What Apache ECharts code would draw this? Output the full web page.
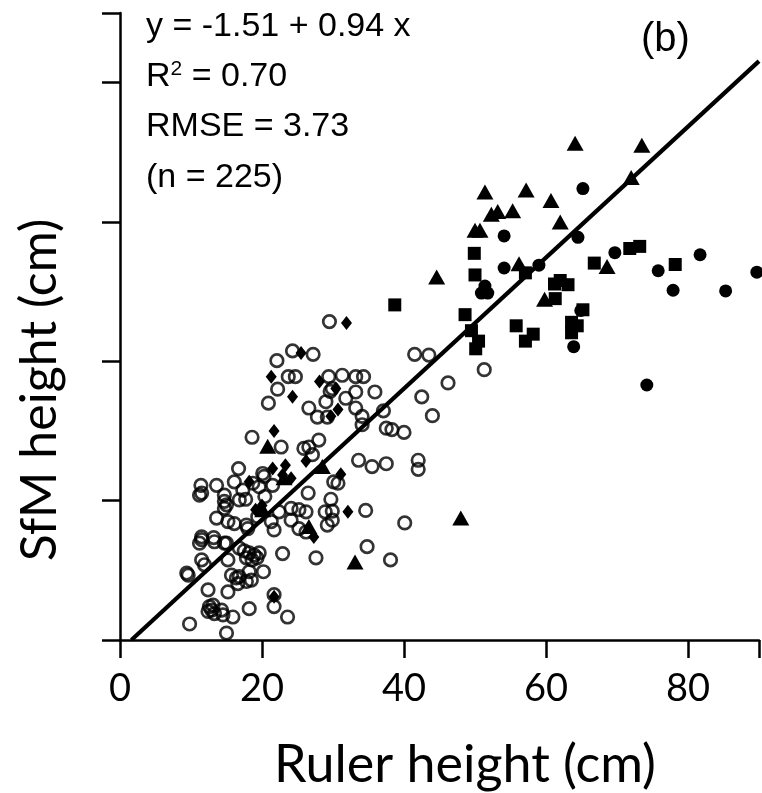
<!DOCTYPE html>
<html>
<head>
<meta charset="utf-8">
<script src="https://cdn.jsdelivr.net/npm/echarts@6/dist/echarts.min.js"></script>
<style>
html,body{margin:0;padding:0;background:#fff;}
#chart{width:762px;height:793px;}
</style>
</head>
<body>
<div id="chart"></div>
<script>
// ---- data (Ruler height cm, SfM height cm) ----
const xTicks = [0, 20, 40, 60, 80];
const xRange = [0, 90];
const yRange = [0, 90];
const fitIntercept = -1.51;
const fitSlope = 0.94;
const statsLines = ["y = -1.51 + 0.94 x", "R2 = 0.70", "RMSE = 3.73", "(n = 225)"];
const panelLabel = "(b)";
const xTitle = "Ruler height (cm)";
const yTitle = "SfM height (cm)";

const openCircles = [
 [29.5,45.7],[24.3,41.5],[27.2,41.0],[22.1,40.1],[23.7,37.8],[24.7,37.8],[22.2,36.0],[20.9,34.0],
 [29.4,37.8],[31.3,38.0],[33.2,37.8],[34.3,37.8],[29.6,35.7],[29.9,36.1],[26.6,33.3],[27.8,32.0],
 [29.2,32.0],[31.8,34.7],[33.2,35.6],[35.9,35.6],[33.2,33.3],[34.1,32.1],[34.1,30.9],[37.1,32.9],
 [37.5,30.4],[38.3,30.2],[40.0,29.8],[41.5,41.0],[43.5,40.9],[46.2,36.9],[42.5,34.9],[44.0,32.2],
 [51.3,38.8],[29.0,34.2],[18.6,29.1],[22.7,27.7],[25.9,27.5],[28.0,28.7],[27.1,26.6],[16.7,24.6],
 [33.6,25.8],[35.5,24.9],[37.5,25.3],[42.0,25.8],[42.0,24.5],[30.7,22.5],[29.7,20.2],[26.5,21.1],
 [28.9,18.4],[29.9,18.5],[34.6,18.6],[29.2,16.5],[40.1,16.8],[34.8,13.4],[38.1,11.5],[27.6,11.8],
 [22.9,12.4],[23.6,3.3],[21.7,4.8],[21.7,6.5],[18.2,4.5],[15.0,1.0],[9.8,2.3],[11.4,22.2],
 [11.5,21.1],[13.6,22.2],[16.1,22.7],[20.3,23.5],[21.5,22.2],[18.7,22.5],[17.3,21.5],[20.4,20.6],
 [14.7,20.8],[15.0,19.4],[16.8,20.1],[17.7,20.2],[25.2,18.7],[26.2,18.4],[24.1,18.9],[24.1,17.2],
 [22.4,18.4],[21.3,17.0],[21.7,15.8],[13.6,17.5],[15.2,17.0],[16.1,16.7],[17.8,16.5],[18.0,16.0],
 [19.4,17.7],[25.2,16.0],[26.2,15.5],[29.9,17.2],[11.5,14.8],[11.5,14.4],[13.2,14.7],[15.0,13.9],
 [16.8,13.2],[17.5,12.8],[18.2,12.5],[18.9,12.2],[19.6,12.5],[17.8,11.8],[18.6,11.5],[19.3,11.8],
 [20.2,9.8],[18.2,9.8],[16.8,9.1],[11.5,11.5],[11.9,10.8],[9.6,9.3],[9.4,9.6],[12.4,7.2],
 [15.2,6.9],[16.4,8.9],[16.6,8.1],[17.8,8.4],[18.5,8.6],[12.6,4.8],[12.9,4.3],[13.3,3.8],
 [14.5,3.6],[15.9,3.3],[13.1,5.0],[14.3,4.3],[12.4,4.1],[15.7,9.3],[15.2,11.5],[11.2,13.9],
 [13.3,14.1],[14.7,13.9],[11.2,20.8],[14.7,19.9],[14.7,18.9],[30.1,22.7],[20.1,23.9],[19.6,22.0],
 [26.6,27.7]
];
const diamonds = [
 [25.5,41.2],[31.9,45.5],[21.3,37.8],[24.3,34.9],[28.1,37.1],[30.7,33.1],[30.4,36.1],[29.7,32.1],
 [21.7,30.0],[23.3,25.1],[21.5,24.6],[26.2,25.7],[31.1,23.8],[18.2,22.7],[22.9,23.7],[19.1,18.7],
 [27.3,14.8],[21.7,6.2],[32.1,18.4],[24.1,23.2],[20.0,19.3]
];
const triangles = [
 [64.1,71.3],[73.5,71.0],[72.0,66.4],[51.4,64.3],[57.2,64.6],[60.7,63.1],[52.3,61.1],[53.2,61.5],
 [55.3,61.6],[62.0,60.0],[50.0,58.8],[50.7,58.8],[44.6,52.1],[56.2,54.0],[68.6,53.6],[59.8,48.9],
 [48.0,17.5],[33.1,11.2],[28.5,24.9],[20.8,27.8],[20.1,18.7],[26.6,16.3],[23.1,23.3]
];
const squares = [
 [49.9,55.5],[50.0,52.4],[48.6,46.7],[49.5,44.4],[50.5,42.9],[50.1,41.8],[55.8,45.1],[58.2,43.9],
 [57.1,42.9],[57.1,52.7],[61.2,51.1],[62.0,51.6],[63.1,51.0],[61.3,49.0],[65.2,47.4],[63.6,45.6],
 [64.4,45.1],[63.6,44.1],[66.8,54.1],[71.8,56.2],[73.2,56.5],[78.2,53.9],[38.7,48.1]
];
const filledCircles = [
 [65.2,64.8],[54.1,58.0],[64.5,57.8],[54.1,53.4],[59.0,53.8],[69.7,55.6],[75.8,53.0],[81.7,55.3],
 [77.9,50.2],[85.3,50.1],[89.7,52.8],[51.4,50.8],[50.9,49.8],[51.8,49.8],[64.9,47.3],[63.9,42.1],
 [74.2,36.6]
];

const fitLine = [[-fitIntercept / fitSlope, 0], [xRange[1], fitIntercept + fitSlope * xRange[1]]];

const chart = echarts.init(document.getElementById('chart'), null, {renderer: 'canvas'});
const black = '#000';
const tickFont = 'Lato, "Noto Sans", sans-serif';
const annFont = '"Liberation Sans", Arial, sans-serif';
function scatter(name, data, symbol, size, open) {
  return {
    name, type: 'scatter', data, symbol, symbolSize: size, silent: true,
    itemStyle: open ? {color: 'rgba(0,0,0,0)', borderColor: black, borderWidth: 2.7}
                    : {color: black, borderWidth: 0, opacity: 1},
    z: 3
  };
}
chart.setOption({
  animation: false,
  backgroundColor: '#fff',
  grid: {left: 120, right: 0, top: 13, bottom: 153, containLabel: false},
  xAxis: {
    type: 'value', min: xRange[0], max: xRange[1], interval: 20,
    axisLine: {show: true, onZero: false, lineStyle: {color: black, width: 2.5}},
    axisTick: {show: true, inside: false, length: 18, lineStyle: {color: black, width: 2.5}},
    axisLabel: {show: true, margin: 30, fontFamily: tickFont, fontSize: 38, color: black,
      formatter: v => xTicks.includes(v) ? String(v) : ''},
    splitLine: {show: false}
  },
  yAxis: {
    type: 'value', min: yRange[0], max: yRange[1], interval: 20,
    axisLine: {show: true, onZero: false, lineStyle: {color: black, width: 2.5}},
    axisTick: {show: true, inside: false, length: 18, lineStyle: {color: black, width: 2.5}},
    axisLabel: {show: false},
    splitLine: {show: false}
  },
  series: [
    scatter('open', openCircles, 'circle', 12.5, true),
    scatter('diamond', diamonds, 'diamond', [11, 14], false),
    scatter('triangle', triangles, 'triangle', [17, 15], false),
    scatter('square', squares, 'rect', 13, false),
    scatter('filled', filledCircles, 'circle', 13, false),
    {
      name: 'fit', type: 'line', data: fitLine, symbol: 'none', silent: true,
      lineStyle: {color: black, width: 4.2}, z: 4, clip: true
    }
  ],
  graphic: [
    {type: 'text', x: 465, y: 765, style: {text: xTitle, fontFamily: tickFont, fontSize: 52, fill: black, align: 'center', verticalAlign: 'middle'}},
    {type: 'text', x: 40, y: 390, rotation: Math.PI / 2, style: {text: yTitle, fontFamily: tickFont, fontSize: 50, fill: black, align: 'center', verticalAlign: 'middle'}},
    {type: 'text', x: 146, y: 27, style: {text: statsLines[0], fontFamily: annFont, fontSize: 34, fill: black, verticalAlign: 'middle'}},
    {type: 'text', x: 146, y: 76, style: {
      text: '{a|R}{s|2}{a| = 0.70}', verticalAlign: 'middle',
      rich: {a: {fontFamily: annFont, fontSize: 34, fill: black, verticalAlign: 'bottom'},
             s: {fontFamily: annFont, fontSize: 21, fill: black, verticalAlign: 'top', padding: [0,0,14,0]}}}},
    {type: 'text', x: 146, y: 127, style: {text: statsLines[2], fontFamily: annFont, fontSize: 34, fill: black, verticalAlign: 'middle'}},
    {type: 'text', x: 146, y: 178, style: {text: statsLines[3], fontFamily: annFont, fontSize: 34, fill: black, verticalAlign: 'middle'}},
    {type: 'text', x: 641, y: 40, style: {text: panelLabel, fontFamily: annFont, fontSize: 40, fill: black, verticalAlign: 'middle'}}
  ]
});
</script>
</body>
</html>
